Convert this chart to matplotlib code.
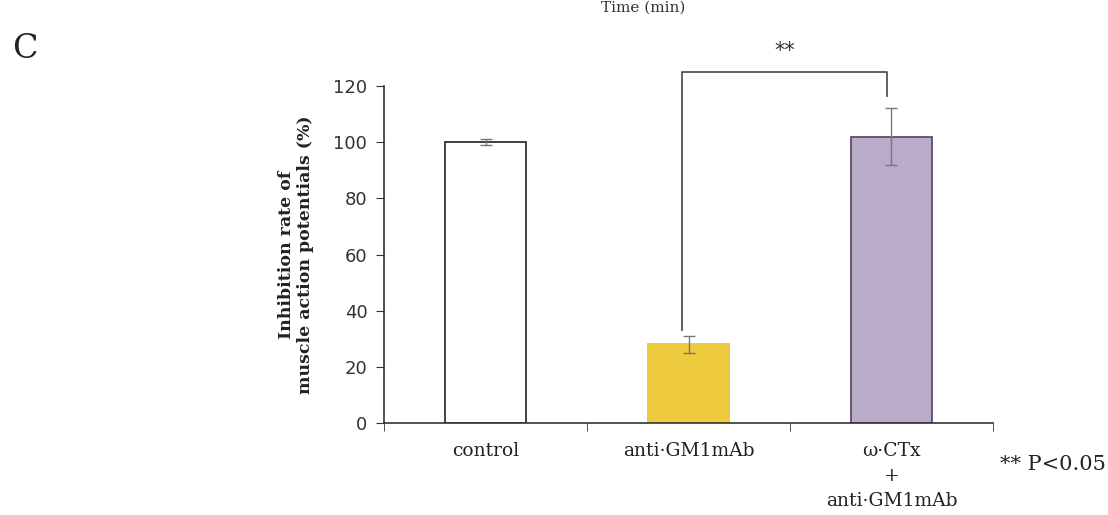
import matplotlib
matplotlib.use("Agg")
import matplotlib.pyplot as plt
import numpy as np

# ── data ──────────────────────────────────────────────────────────────────────
categories = ["control", "anti·GM1mAb", "ω·CTx\n+\nanti·GM1mAb"]
values = [100, 28, 102]
errors = [1, 3, 10]
bar_colors = ["#ffffff", "#eecb3c", "#b9acc9"]
edge_colors = ["#333333", "#e8c640", "#5b4a72"]
y_ticks = [0, 20, 40, 60, 80, 100, 120]

SERIF = "DejaVu Serif"
SANS = "DejaVu Sans"

fig = plt.figure(figsize=(11.08, 5.15), dpi=100)
ax = fig.add_axes([0.3466, 0.1786, 0.5496, 0.6544])

x = np.arange(len(categories))
ax.bar(x, values, width=0.4, color=bar_colors, edgecolor=edge_colors, linewidth=1.3, zorder=2)
ax.errorbar(x, values, yerr=errors, fmt="none", ecolor="#777777", elinewidth=1.0,
            capsize=4, capthick=1.0, zorder=3)

ax.set_xlim(-0.5, 2.5)
ax.set_ylim(0, 120)
ax.set_yticks(y_ticks)
ax.set_yticklabels([str(v) for v in y_ticks], fontsize=13, color="#333333", family=SANS)

# category labels without tick marks, tick marks at category borders
ax.set_xticks(x)
ax.set_xticklabels(categories, fontsize=13.5, family=SERIF, color="#222222", linespacing=1.5)
ax.tick_params(axis="x", which="major", length=0, pad=14)
ax.set_xticks([-0.5, 0.5, 1.5, 2.5], minor=True)
ax.tick_params(axis="x", which="minor", length=6, direction="out", color="#333333")
ax.tick_params(axis="y", length=6, direction="out", color="#333333", pad=6)

for s in ["top", "right"]:
    ax.spines[s].set_visible(False)
for s in ["left", "bottom"]:
    ax.spines[s].set_color("#333333")
    ax.spines[s].set_linewidth(1.2)

ax.set_ylabel("Inhibition rate of\nmuscle action potentials (%)", fontsize=12.5,
              family=SERIF, fontweight="bold", color="#222222", linespacing=1.1, labelpad=14)

# significance bracket
x_l, x_r = 0.97, 1.98
y_top, y_r, y_l = 125, 116.5, 33
ax.plot([x_l, x_l, x_r, x_r], [y_l, y_top, y_top, y_r], color="#555555", lw=1.3,
        clip_on=False, zorder=4)
ax.text((x_l + x_r) / 2, y_top + 4, "**", ha="center", va="bottom", fontsize=15,
        family=SANS, color="#333333", clip_on=False)

# extra figure texts
fig.text(0.011, 0.905, "C", fontsize=24, family=SERIF, color="#222222", va="center", ha="left")
fig.text(1000 / 1108, 1 - 465 / 515, "** P<0.05", fontsize=15, family=SERIF,
         color="#222222", va="center", ha="left")
fig.text(0.542, 0.998, "Time (min)", fontsize=11, family=SERIF, color="#333333",
         va="top", ha="left")

plt.savefig("out.png", dpi=100, facecolor="white")
plt.close()
